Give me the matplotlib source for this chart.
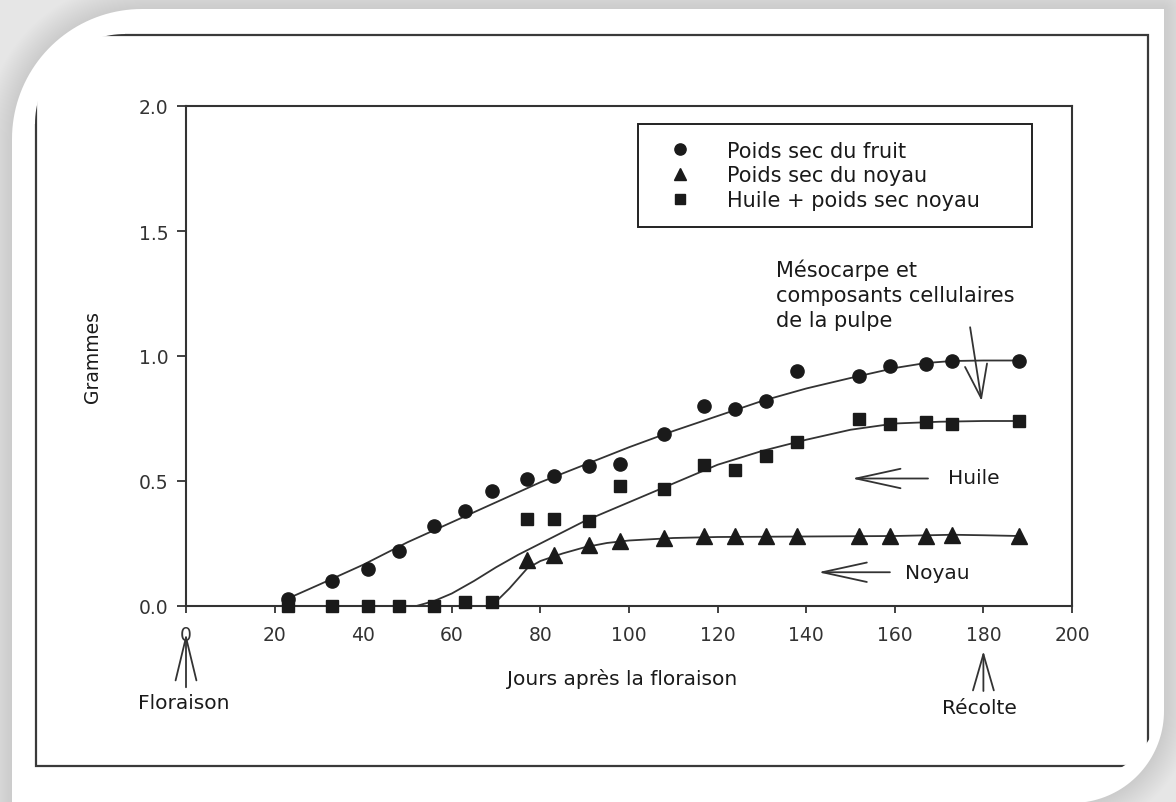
import matplotlib
matplotlib.use("Agg")
import matplotlib.pyplot as plt
import numpy as np
from matplotlib.patches import FancyArrowPatch, PathPatch, Rectangle, ArrowStyle
from matplotlib.path import Path

# --- données (jours après floraison, grammes) ---
fruit_days = [23, 33, 41, 48, 56, 63, 69, 77, 83, 91, 98, 108, 117, 124, 131, 138, 152, 159, 167, 173, 188]
fruit_g = [0.03, 0.10, 0.15, 0.22, 0.32, 0.38, 0.46, 0.51, 0.52, 0.56, 0.57, 0.69, 0.80, 0.79, 0.82, 0.94,
           0.92, 0.96, 0.97, 0.98, 0.98]

noyau_days = [77, 83, 91, 98, 108, 117, 124, 131, 138, 152, 159, 167, 173, 188]
noyau_g = [0.185, 0.205, 0.245, 0.262, 0.272, 0.28, 0.28, 0.28, 0.28, 0.28, 0.28, 0.28, 0.285, 0.28]

huile_days = [23, 33, 41, 48, 56, 63, 69, 77, 83, 91, 98, 108, 117, 124, 131, 138, 152, 159, 167, 173, 188]
huile_g = [0.0, 0.0, 0.0, 0.0, 0.0, 0.015, 0.015, 0.35, 0.35, 0.34, 0.48, 0.47, 0.565, 0.545, 0.60, 0.655,
           0.75, 0.73, 0.735, 0.73, 0.74]

# courbes ajustées
fruit_fit_days = [23, 30, 40, 50, 60, 70, 80, 90, 100, 110, 120, 130, 140, 150, 160, 167, 173, 180, 188]
fruit_fit_g = [0.03, 0.085, 0.165, 0.255, 0.335, 0.415, 0.495, 0.565, 0.635, 0.70, 0.76, 0.82, 0.87, 0.912,
               0.952, 0.972, 0.98, 0.982, 0.982]

huile_fit_days = [52, 56, 60, 65, 70, 75, 80, 90, 100, 110, 120, 130, 140, 150, 160, 170, 180, 188]
huile_fit_g = [0.0, 0.02, 0.05, 0.10, 0.155, 0.205, 0.25, 0.34, 0.415, 0.49, 0.565, 0.62, 0.665, 0.705,
               0.73, 0.737, 0.74, 0.74]

noyau_fit_days = [69, 73, 77, 80, 85, 90, 95, 100, 110, 120, 140, 160, 173, 180, 188]
noyau_fit_g = [0.0, 0.07, 0.15, 0.18, 0.21, 0.235, 0.252, 0.262, 0.272, 0.276, 0.278, 0.28, 0.285, 0.283, 0.28]

xticks = list(range(0, 201, 20))
yticks = [0.0, 0.5, 1.0, 1.5, 2.0]

W, H = 1176, 803
INK = "#1a1a1a"
GREY = "#333333"


def fig_xy(pts):
    pts = np.asarray(pts, dtype=float)
    return np.column_stack([pts[:, 0] / W, 1 - pts[:, 1] / H])


def arc(cx, cy, r, a0, a1, n=40):
    a = np.deg2rad(np.linspace(a0, a1, n))
    return np.column_stack([cx + r * np.cos(a), cy + r * np.sin(a)])


fig = plt.figure(figsize=(W / 100, H / 100), dpi=100, facecolor="#e6e6e6")

# carte blanche arrondie + ombre douce
card = np.vstack([[[12, 815], [12, 140]], arc(142, 140, 130, 180, 270),
                  [[1164, 10]], [[1164, 712]], arc(1072, 712, 92, 0, 90), [[12, 815]]])
card_path = Path(fig_xy(card))
for lw in np.linspace(40, 2, 26):
    fig.patches.append(PathPatch(card_path, transform=fig.transFigure, facecolor="none",
                                 edgecolor="black", lw=lw, alpha=0.0055, zorder=0,
                                 joinstyle="round"))
fig.patches.append(PathPatch(card_path, transform=fig.transFigure, facecolor="white",
                             edgecolor="none", zorder=1))

# cadre rectangulaire, coins masqués
clip = np.vstack([[[-50, 900], [-50, 125], [35, 125]], arc(125, 125, 90, 180, 270),
                  [[125, -50], [1250, -50], [1250, 700], [1160, 700]], arc(1080, 700, 80, 0, 90),
                  [[1080, 900]]])
clip_patch = PathPatch(Path(fig_xy(clip)), transform=fig.transFigure, facecolor="none", edgecolor="none")
frame = Rectangle((36 / W, 1 - 767 / H), (1148 - 36) / W, (767 - 36) / H, transform=fig.transFigure,
                  facecolor="none", edgecolor="#3a3a3a", lw=1.6, zorder=2)
fig.patches.append(frame)
frame.set_clip_path(clip_patch)

ax = fig.add_axes([186 / W, (H - 607) / H, (1072 - 186) / W, 500 / H], zorder=3)
ax.set_facecolor("none")
ax.set_xlim(0, 200)
ax.set_ylim(0, 2)
ax.set_xticks(xticks)
ax.set_yticks(yticks)
ax.set_yticklabels([f"{v:.1f}" for v in yticks])
for s in ax.spines.values():
    s.set_linewidth(1.5)
    s.set_color("#333333")
ax.tick_params(axis="x", direction="out", length=5, width=1.3, pad=9, labelsize=13.5, colors="#333333")
ax.tick_params(axis="y", direction="out", length=6.5, width=1.3, pad=6, labelsize=13.5, colors="#333333")

# courbes
ax.plot(fruit_fit_days, fruit_fit_g, "-", color=GREY, lw=1.3, zorder=3)
ax.plot(huile_fit_days, huile_fit_g, "-", color=GREY, lw=1.3, zorder=3)
ax.plot(noyau_fit_days, noyau_fit_g, "-", color=GREY, lw=1.3, zorder=3)

# points
h1, = ax.plot(fruit_days, fruit_g, "o", ms=9.5, color=INK, clip_on=False, zorder=5,
              label="Poids sec du fruit")
h2, = ax.plot(noyau_days, noyau_g, "^", ms=11, color=INK, clip_on=False, zorder=5,
              label="Poids sec du noyau")
h3, = ax.plot(huile_days, huile_g, "s", ms=9, color=INK, clip_on=False, zorder=5,
              label="Huile + poids sec noyau")

leg = ax.legend(handles=[h1, h2, h3], loc="upper left", bbox_to_anchor=(0.51, 0.758, 0.445, 0.206),
                mode="expand", fontsize=15, frameon=True, fancybox=False, framealpha=1,
                edgecolor="#222222", borderpad=0.8, labelspacing=0.22, handlelength=2.4,
                handletextpad=1.1, markerscale=0.85, borderaxespad=0)
leg.get_frame().set_linewidth(1.4)
for t in leg.get_texts():
    t.set_color(INK)

ax.set_xlabel("Jours après la floraison", fontsize=14.5, color=INK)
ax.xaxis.set_label_coords(0.492, -0.125)
ax.set_ylabel("Grammes", fontsize=13.5, color=INK)
ax.yaxis.set_label_coords(-0.095, 0.5)

# annotations
ax.text(133.2, 1.39, "Mésocarpe et\ncomposants cellulaires\nde la pulpe", fontsize=15, color=INK,
        va="top", ha="left", linespacing=1.3)
ax.text(172, 0.515, "Huile", fontsize=14.5, color=INK, va="center", ha="left")
ax.text(162.3, 0.135, "Noyau", fontsize=14.5, color=INK, va="center", ha="left")
ax.text(-0.5, -0.385, "Floraison", fontsize=14.5, color=INK, va="center", ha="center")
ax.text(179, -0.405, "Récolte", fontsize=14.5, color=INK, va="center", ha="center")


def arrow(tail, head, hl, hw):
    p = FancyArrowPatch(tail, head, arrowstyle=ArrowStyle("->", head_length=hl, head_width=hw),
                        mutation_scale=10, color="#333333", lw=1.3, shrinkA=0, shrinkB=0,
                        clip_on=False, zorder=4)
    ax.add_patch(p)


arrow((177, 1.115), (179.6, 0.82), 2.4, 0.8)
arrow((167.5, 0.51), (150.3, 0.51), 3.2, 0.7)
arrow((158.9, 0.135), (142.7, 0.135), 3.2, 0.7)
arrow((0, -0.325), (0, -0.11), 3.1, 0.75)
arrow((180, -0.34), (180, -0.18), 2.6, 0.75)

fig.savefig("out.png", dpi=100)
